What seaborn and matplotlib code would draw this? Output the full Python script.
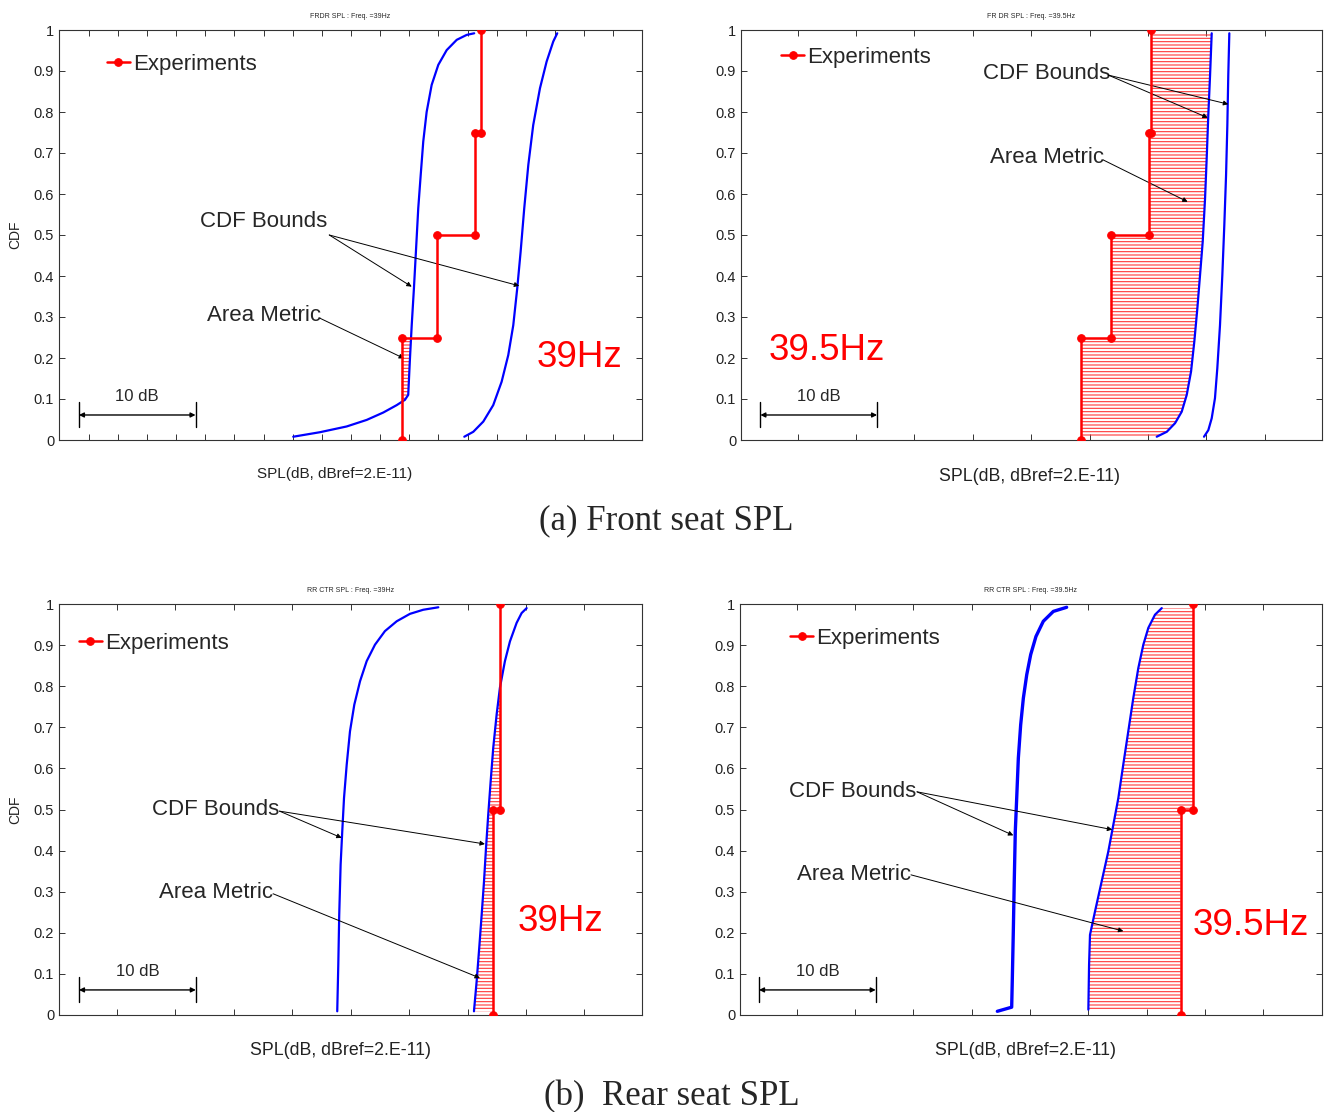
import numpy as np
import matplotlib
matplotlib.use("Agg")
import matplotlib.pyplot as plt
import seaborn as sns

# ------------------------------------------------------------------ data
levels_4 = [0.0, 0.25, 0.5, 0.75, 1.0]
levels_2 = [0.0, 0.5, 1.0]
ytick_vals = [0.0, 0.1, 0.2, 0.3, 0.4, 0.5, 0.6, 0.7, 0.8, 0.9, 1.0]
ytick_labels = ["0", "0.1", "0.2", "0.3", "0.4", "0.5", "0.6", "0.7", "0.8", "0.9", "1"]

titles = ["FRDR SPL : Freq. =39Hz", "FR DR SPL : Freq. =39.5Hz",
          "RR CTR SPL : Freq. =39Hz", "RR CTR SPL : Freq. =39.5Hz"]
freq_labels = ["39Hz", "39.5Hz", "39Hz", "39.5Hz"]
captions = ["(a) Front seat SPL", "(b)  Rear seat SPL"]
xlabel_text = "SPL(dB, dBref=2.E-11)"

# (a) front seat, 39 Hz
fa39_exp = [86.85, 89.88, 93.14, 93.62]
fa39_lo_spl = [77.55, 79.84, 82.13, 83.85, 85.27, 86.42, 87.13, 87.41, 87.56, 87.71, 87.90,
               88.07, 88.27, 88.48, 88.70, 88.99, 89.42, 89.99, 90.71, 91.57, 92.42, 93.07]
fa39_lo_cdf = [0.008, 0.019, 0.033, 0.049, 0.067, 0.085, 0.098, 0.110, 0.199, 0.280, 0.370,
               0.459, 0.565, 0.646, 0.728, 0.800, 0.866, 0.915, 0.951, 0.976, 0.988, 0.992]
fa39_hi_spl = [92.22, 92.99, 93.85, 94.70, 95.42, 95.99, 96.42, 96.76, 97.05, 97.36, 97.71,
               98.13, 98.71, 99.28, 99.85, 100.19]
fa39_hi_cdf = [0.008, 0.020, 0.045, 0.085, 0.142, 0.207, 0.280, 0.370, 0.459, 0.565, 0.671,
               0.768, 0.858, 0.923, 0.972, 0.992]

# (a) front seat, 39.5 Hz
fa395_exp = [69.27, 71.82, 75.14, 75.31]
fa395_lo_spl = [75.76, 76.62, 77.33, 77.90, 78.33, 78.70, 78.98, 79.24, 79.47, 79.70, 79.90,
                80.04, 80.18, 80.33, 80.47]
fa395_lo_cdf = [0.008, 0.020, 0.041, 0.069, 0.110, 0.167, 0.240, 0.321, 0.402, 0.484, 0.589,
                0.687, 0.793, 0.890, 0.992]
fa395_hi_spl = [79.81, 80.18, 80.47, 80.75, 80.95, 81.18, 81.38, 81.55, 81.70, 81.81, 81.89, 81.98]
fa395_hi_cdf = [0.008, 0.024, 0.053, 0.102, 0.175, 0.280, 0.402, 0.524, 0.646, 0.768, 0.890, 0.992]

# (b) rear seat, 39 Hz
rb39_exp = [77.20, 77.80]
rb39_lo_spl = [63.85, 63.94, 64.02, 64.14, 64.28, 64.43, 64.66, 64.94, 65.31, 65.80, 66.37,
               67.08, 67.93, 68.94, 70.07, 71.21, 72.50]
rb39_lo_cdf = [0.009, 0.122, 0.244, 0.366, 0.447, 0.528, 0.609, 0.690, 0.755, 0.812, 0.861,
               0.901, 0.934, 0.958, 0.976, 0.986, 0.992]
rb39_hi_spl = [75.55, 75.78, 76.00, 76.21, 76.41, 76.58, 76.77, 76.98, 77.20, 77.49, 77.77,
               78.20, 78.63, 79.20, 79.63, 80.06]
rb39_hi_cdf = [0.009, 0.082, 0.163, 0.244, 0.325, 0.406, 0.487, 0.569, 0.650, 0.731, 0.796,
               0.861, 0.909, 0.954, 0.978, 0.990]

# (b) rear seat, 39.5 Hz
rb395_exp = [77.91, 78.99]
rb395_lo_spl = [62.20, 63.43, 63.48, 63.57, 63.65, 63.74, 63.86, 64.00, 64.20, 64.43, 64.72,
                65.06, 65.51, 66.14, 67.00, 68.14]
rb395_lo_cdf = [0.009, 0.019, 0.082, 0.204, 0.325, 0.447, 0.528, 0.625, 0.706, 0.771, 0.828,
                0.877, 0.921, 0.958, 0.982, 0.992]
rb395_hi_spl = [70.00, 70.06, 70.14, 70.57, 71.14, 71.71, 72.14, 72.57, 72.99, 73.42, 73.85,
                74.28, 74.71, 75.14, 75.71, 76.29]
rb395_hi_cdf = [0.013, 0.122, 0.195, 0.252, 0.325, 0.398, 0.463, 0.528, 0.609, 0.690, 0.771,
                0.844, 0.901, 0.942, 0.974, 0.990]

# ------------------------------------------------------------------ style
sns.set_style("ticks")
plt.rcParams["font.family"] = ["Liberation Sans", "DejaVu Sans"]
plt.rcParams["hatch.color"] = "#ff3838"
plt.rcParams["hatch.linewidth"] = 0.8
plt.rcParams["xtick.direction"] = "in"
plt.rcParams["ytick.direction"] = "in"

RED = "#ff0000"
BLUE = "#0000ff"

W, H = 1325, 1112
fig = plt.figure(figsize=(W / 100, H / 100), dpi=100)


def px_axes(l, t, r, b):
    return fig.add_axes([l / W, 1 - b / H, (r - l) / W, (b - t) / H])


def panel(ax, exp, levels, lo_spl, lo_cdf, hi_spl, hi_cdf, xlim, xticks, title,
          freq, freq_xy, bnd_xy, bnd_start, bnd_tips, area_xy, area_start, area_tip,
          bar_x0, leg_anchor, ylabel, xlab_x=0.5, xlab_size=12.5, xlab_pad=15.0,
          lo_lw=1.6):
    # hatched area metric
    yg = np.linspace(0, 1, 1201)
    idx = np.clip(np.searchsorted(levels, yg, side="right") - 1, 0, len(exp) - 1)
    ex = np.asarray(exp)[idx]
    lo_x = np.interp(yg, lo_cdf, lo_spl)
    hi_x = np.interp(yg, hi_cdf, hi_spl)
    vlo = (yg >= lo_cdf[0]) & (yg <= lo_cdf[-1])
    vhi = (yg >= hi_cdf[0]) & (yg <= hi_cdf[-1])
    m1 = vlo & (ex < lo_x)
    m2 = vhi & (ex > hi_x)
    for m, a, b in ((m1, ex, lo_x), (m2, hi_x, ex)):
        if m.any():
            ax.fill_betweenx(yg, a, b, where=m, facecolor="none", edgecolor="#ff3838",
                             linewidth=0, hatch="-----", zorder=1)

    # CDF bounds
    sns.lineplot(x=lo_spl, y=lo_cdf, sort=False, estimator=None, color=BLUE,
                 lw=lo_lw, ax=ax, legend=False, zorder=3)
    sns.lineplot(x=hi_spl, y=hi_cdf, sort=False, estimator=None, color=BLUE,
                 lw=1.6, ax=ax, legend=False, zorder=3)

    # experiments (empirical CDF)
    xs, ys = [], []
    for i, x in enumerate(exp):
        xs += [x, x]
        ys += [levels[i], levels[i + 1]]
    sns.lineplot(x=xs, y=ys, sort=False, estimator=None, color=RED, lw=1.8,
                 marker="o", markersize=5.5, markeredgecolor=RED,
                 label="Experiments", ax=ax, zorder=4)
    ax.legend(loc="center left", bbox_to_anchor=leg_anchor, frameon=False,
              fontsize=16, handlelength=1.05, handletextpad=0.12, borderpad=0,
              borderaxespad=0)

    ax.set_xlim(*xlim)
    ax.set_ylim(0, 1)
    ax.set_xticks(xticks)
    ax.set_xticklabels([])
    ax.set_yticks(ytick_vals)
    ax.set_yticklabels(ytick_labels, fontsize=10.5)
    ax.tick_params(axis="both", which="both", length=4.5, width=0.7, color="#333333",
                   top=True, right=True, labelcolor="#222222")
    for s in ax.spines.values():
        s.set_linewidth(0.8)
        s.set_color("#333333")
    ax.set_title(title, fontsize=5, pad=9)
    ax.set_xlabel(xlabel_text, fontsize=xlab_size, labelpad=xlab_pad, color="#222222")
    ax.xaxis.label.set_x(xlab_x)
    if ylabel:
        ax.set_ylabel("CDF", fontsize=10, labelpad=8, color="#222222")
    else:
        ax.set_ylabel("")

    # annotations
    ap = dict(arrowstyle="-|>", color="black", lw=0.7, mutation_scale=7,
              shrinkA=0, shrinkB=0)
    ax.text(*bnd_xy, "CDF Bounds", fontsize=16, ha="left", va="center")
    for tip in bnd_tips:
        ax.annotate("", xy=tip, xytext=bnd_start, arrowprops=ap)
    ax.text(*area_xy, "Area Metric", fontsize=16, ha="left", va="center")
    ax.annotate("", xy=area_tip, xytext=area_start, arrowprops=ap)
    ax.text(*freq_xy, freq, fontsize=26.5, color=RED, ha="left", va="center")

    # 10 dB scale bar
    yb = 0.061
    ax.annotate("", xy=(bar_x0, yb), xytext=(bar_x0 + 10, yb),
                arrowprops=dict(arrowstyle="<|-|>", color="black", lw=1.0,
                                mutation_scale=7, shrinkA=0, shrinkB=0))
    for xe in (bar_x0, bar_x0 + 10):
        ax.plot([xe, xe], [0.032, 0.092], color="black", lw=1.0)
    ax.text(bar_x0 + 5, 0.106, "10 dB", fontsize=12, ha="center", va="center")


ax1 = px_axes(59, 30, 642, 440)
ax2 = px_axes(741, 30, 1322, 440)
ax3 = px_axes(59, 604, 642, 1015)
ax4 = px_axes(740, 604, 1322, 1015)

panel(ax1, fa39_exp, levels_4, fa39_lo_spl, fa39_lo_cdf, fa39_hi_spl, fa39_hi_cdf,
      (57.46, 107.46), np.arange(60, 105.1, 2.5), titles[0], freq_labels[0],
      (98.45, 0.202), (69.55, 0.534), (80.64, 0.500), [(87.71, 0.374), (96.93, 0.376)],
      (70.15, 0.304), (79.84, 0.297), (87.05, 0.199), 59.17, (0.082, 0.917), True,
      xlab_x=0.472, xlab_size=11, xlab_pad=16)

panel(ax2, fa395_exp, levels_4, fa395_lo_spl, fa395_lo_cdf, fa395_hi_spl, fa395_hi_cdf,
      (40.14, 89.92), np.arange(45, 85.1, 5), titles[1], freq_labels[1],
      (42.54, 0.219), (60.87, 0.895), (71.61, 0.890), [(80.13, 0.786), (81.89, 0.819)],
      (61.47, 0.688), (71.18, 0.683), (78.41, 0.581), 41.8, (0.069, 0.934), False,
      xlab_x=0.497, xlab_size=12.8, xlab_pad=17)

panel(ax3, rb39_exp, levels_2, rb39_lo_spl, rb39_lo_cdf, rb39_hi_spl, rb39_hi_cdf,
      (40.04, 89.93), np.arange(45, 85.1, 5), titles[2], freq_labels[2],
      (79.32, 0.228), (48.0, 0.500), (58.91, 0.496), [(64.23, 0.431), (76.49, 0.416)],
      (48.6, 0.297), (58.36, 0.295), (76.06, 0.090), 41.75, (0.034, 0.905), True,
      xlab_x=0.482, xlab_size=12.8, xlab_pad=16)

panel(ax4, rb395_exp, levels_2, rb395_lo_spl, rb395_lo_cdf, rb395_hi_spl, rb395_hi_cdf,
      (40.15, 90.02), np.arange(45, 85.1, 5), titles[3], freq_labels[3],
      (78.97, 0.217), (44.35, 0.545), (55.32, 0.543), [(63.57, 0.437), (72.05, 0.451)],
      (45.03, 0.3425), (54.8, 0.341), (73.0, 0.204), 41.78, (0.086, 0.917), False,
      xlab_x=0.491, xlab_size=12.8, xlab_pad=16, lo_lw=2.4)

fig.text(666.5 / W, 1 - 521 / H, captions[0], ha="center", va="center",
         fontsize=25, family=["Liberation Serif", "DejaVu Serif"])
fig.text(671.5 / W, 1 - 1097 / H, captions[1], ha="center", va="center",
         fontsize=25, family=["Liberation Serif", "DejaVu Serif"])

fig.savefig("out.png", dpi=100, facecolor="white")
